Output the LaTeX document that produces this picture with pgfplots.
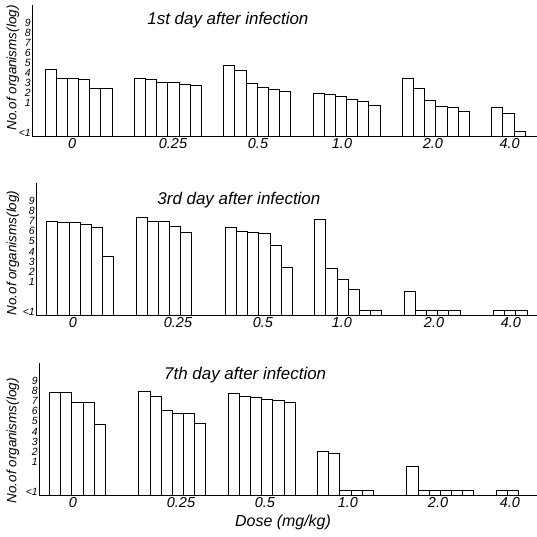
\documentclass[border=0pt]{standalone}
\usepackage{fontspec}
\setmainfont{Liberation Sans}
\usepackage{pgfplots}
\usepackage{pgfplotstable}
\pgfplotsset{compat=1.18}

% x = bar slot (6 slots per dose group + 2 gap), v = log10 no. of organisms ("<1" bars stored as about -1.9)
\pgfplotstableread{
x v
0 4.4
1 3.5
2 3.5
3 3.4
4 2.5
5 2.5
8 3.5
9 3.4
10 3.1
11 3.1
12 2.9
13 2.8
16 4.8
17 4.3
18 3.0
19 2.6
20 2.4
21 2.2
24 2.0
25 1.9
26 1.7
27 1.4
28 1.2
29 0.8
32 3.5
33 2.5
34 1.3
35 0.7
36 0.6
37 0.2
40 0.6
41 0.0
42 -1.85
}\dayone

\pgfplotstableread{
x v
0 7.0
1 6.9
2 6.9
3 6.7
4 6.4
5 3.5
8 7.4
9 7.0
10 7.0
11 6.5
12 5.9
16 6.4
17 6.0
18 5.9
19 5.8
20 4.6
21 2.4
24 7.2
25 2.3
26 1.2
27 0.2
28 -1.9
29 -1.9
32 0.0
33 -1.9
34 -1.9
35 -1.9
36 -1.9
40 -1.9
41 -1.85
42 -1.9
}\daythree

\pgfplotstableread{
x v
0 7.9
1 7.9
2 6.9
3 6.9
4 4.7
8 8.0
9 7.5
10 6.1
11 5.8
12 5.8
13 4.8
16 7.8
17 7.5
18 7.4
19 7.2
20 7.1
21 6.9
24 2.0
25 1.8
26 -1.85
27 -1.85
28 -1.85
32 0.5
33 -1.85
34 -1.85
35 -1.85
36 -1.85
37 -1.85
40 -1.85
41 -1.85
}\dayseven

\pgfplotsset{panel/.style={
  scale only axis,
  anchor=south west,
  axis on top,
  axis x line=bottom, axis y line=left,
  axis line style={-, line width=1bp},
  major tick length=0pt,
  ymin=0, ymax=13.1,
  ytick={0.3,3.3,4.3,5.3,6.3,7.3,8.3,9.3,10.3,11.3},
  yticklabels={<1,1,2,3,4,5,6,7,8,9},
  yticklabel style={font=\fontsize{10.5}{10.5}\selectfont\itshape, inner sep=1bp},
  xticklabels={0,0.25,0.5,1.0,2.0,4.0},
  xticklabel style={font=\fontsize{14.5}{14.5}\selectfont\itshape, inner sep=2bp},
  /pgf/number format/assume math mode=true,
  clip=false,
},
bars/.style={ybar, bar width=1, bar shift=0pt, draw=black, fill=white, line width=1bp},
}
\tikzset{
ttl/.style={font=\fontsize{17}{17}\selectfont\itshape, anchor=center},
ylab/.style={font=\fontsize{13.5}{13.5}\selectfont\itshape, rotate=90, anchor=center}
}

\begin{document}
\begin{tikzpicture}
\useasboundingbox (0,0) rectangle (537bp,-537bp);

\begin{axis}[panel, at={(32bp,-136bp)}, width=505bp, height=131bp,
  xmin=-1.665, xmax=43.55,
  xtick={1.92,10.96,18.57,26.09,34.23,41.1}]
  \addplot[bars] table[x=x, y expr=\thisrow{v}+2.3] {\dayone};
  \node[ttl] at (rel axis cs:0.388,0.885) {1st day after infection};
  \node[ylab] at ([xshift=-19bp]rel axis cs:0,0.52) {No.of organisms(log)};
\end{axis}

\begin{axis}[panel, at={(36bp,-315bp)}, width=501bp, height=132bp,
  xmin=-1.46, xmax=43.39,
  xtick={1.85,11.25,18.86,25.93,34.17,41.06}]
  \addplot[bars] table[x=x, y expr=\thisrow{v}+2.3] {\daythree};
  \node[ttl] at (rel axis cs:0.405,0.87) {3rd day after infection};
  \node[ylab] at ([xshift=-23bp]rel axis cs:0,0.47) {No.of organisms(log)};
\end{axis}

\begin{axis}[panel, at={(39bp,-495bp)}, width=498bp, height=132bp,
  xmin=-1.44, xmax=43.14,
  xtick={1.6,11.27,18.79,26.22,34.28,40.72}]
  \addplot[bars] table[x=x, y expr=\thisrow{v}+2.3] {\dayseven};
  \node[ttl] at (rel axis cs:0.414,0.91) {7th day after infection};
  \node[ylab] at ([xshift=-26bp]rel axis cs:0,0.41) {No.of organisms(log)};
  \node[font=\fontsize{16}{16}\selectfont\itshape, anchor=center] at ([yshift=-27bp]rel axis cs:0.49,0) {Dose (mg/kg)};
\end{axis}
\end{tikzpicture}
\end{document}
